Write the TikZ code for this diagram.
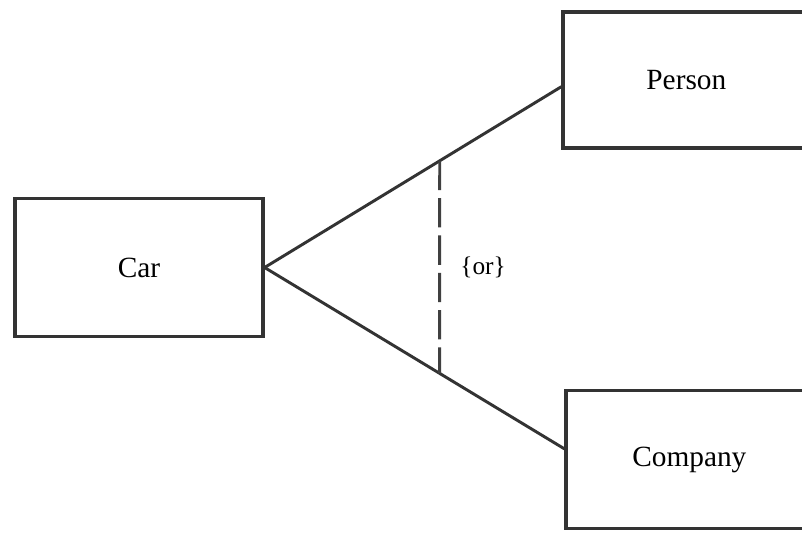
\documentclass[tikz,border=0pt]{standalone}
\usepackage{fontspec}
\setmainfont{Liberation Serif}
\usetikzlibrary{calc}

\begin{document}
\begin{tikzpicture}[
  x=0.75pt, y=-0.75pt,
  ent/.style={draw=black!80, line width=2.4pt, fill=white, font=\fontsize{22}{26}\selectfont,
              inner sep=0pt},
  lnk/.style={draw=black!80, line width=2.2pt},
  alt/.style={draw=black!75, line width=2.2pt, dash pattern=on 22pt off 6pt}
]
\clip (0,0) rectangle (802,532);
\fill[white] (0,0) rectangle (802,532);
\node[ent, minimum width=186pt, minimum height=104pt] (car) at (139,267.5) {Car};
\node[ent, minimum width=192pt, minimum height=102pt] (person) at (691,80)
  {\hspace*{-7pt}Person};
\node[ent, minimum width=192pt, minimum height=103pt] (company) at (694,459.5)
  {\hspace*{-7pt}Company};
\coordinate (pin) at ([yshift=-5pt]person.west);
\coordinate (cin) at ([yshift=8pt]company.west);
\draw[lnk] (car.east) -- (pin);
\draw[lnk] (car.east) -- (cin);
\coordinate (ortop) at ($(car.east)!0.59!(pin)$);
\coordinate (orbot) at ($(car.east)!0.584!(cin)$);
\draw[alt] (ortop) -- (orbot);
\node[font=\fontsize{19}{22}\selectfont, right=12pt] (orlbl) at ($(ortop)!0.5!(orbot)$) {\{or\}};
\end{tikzpicture}
\end{document}
